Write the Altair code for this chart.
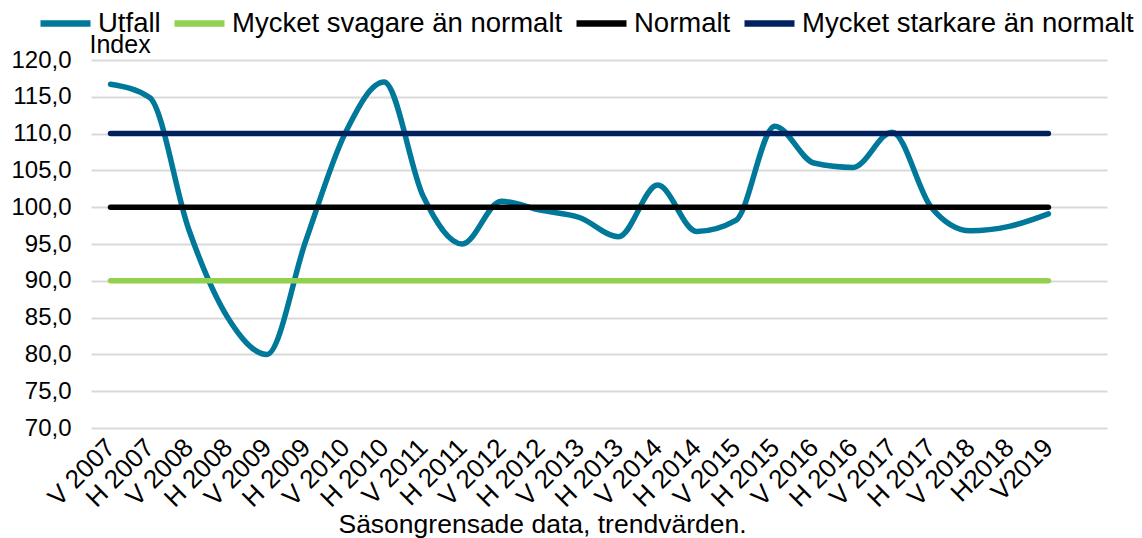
import altair as alt
import pandas as pd

periods = ["V 2007", "H 2007", "V 2008", "H 2008", "V 2009", "H 2009", "V 2010", "H 2010",
           "V 2011", "H 2011", "V 2012", "H 2012", "V 2013", "H 2013", "V 2014", "H 2014",
           "V 2015", "H 2015", "V 2016", "H 2016", "V 2017", "H 2017", "V 2018", "H2018", "V2019"]
utfall = [116.7, 114.9, 97.0, 85.0, 80.0, 95.5, 110.0, 117.0, 101.5, 95.0, 100.8, 99.6,
          98.6, 96.0, 103.0, 96.7, 98.2, 111.0, 106.0, 105.4, 110.2, 100.0, 96.8, 97.4, 99.1]
svagare = [90.0] * len(periods)
normalt = [100.0] * len(periods)
starkare = [110.0] * len(periods)

series_names = ["Utfall", "Mycket svagare än normalt", "Normalt", "Mycket starkare än normalt"]
series_colors = ["#00789A", "#92D050", "#000000", "#002060"]
series_values = [utfall, svagare, normalt, starkare]

rows = []
for order, (name, vals) in enumerate(zip(series_names, series_values)):
    for p, v in zip(periods, vals):
        rows.append({"period": p, "value": v, "series": name, "o": order})
df = pd.DataFrame(rows)

FONT = "Liberation Sans"
x_domain = periods + [" "]

chart = alt.Chart(df).mark_line(
    interpolate="monotone", strokeWidth=5.5, strokeCap="round", strokeJoin="round"
).encode(
    x=alt.X("period:O",
            scale=alt.Scale(type="point", domain=x_domain, padding=0.5),
            axis=alt.Axis(title="Säsongrensade data, trendvärden.", labelAngle=-45,
                          labelAlign="right", labelBaseline="middle", labelPadding=15,
                          labelFontSize=26, labelFont=FONT, labelColor="#000000",
                          domain=False, ticks=False, grid=False, labelOverlap=False,
                          titleFont=FONT, titleFontSize=26.5, titleFontWeight="normal",
                          titleColor="#000000", titleX=451, titleY=104,
                          titleAnchor="middle", titleAlign="center",
                          titleBaseline="alphabetic")),
    y=alt.Y("value:Q",
            scale=alt.Scale(domain=[70, 120], nice=False, zero=False),
            axis=alt.Axis(title="Index", values=list(range(70, 125, 5)),
                          labelExpr="replace(format(datum.value, '.1f'), '.', ',')",
                          labelFontSize=24, labelFont=FONT, labelColor="#000000",
                          labelPadding=20, domain=False, ticks=False,
                          gridColor="#d9d9d9", gridWidth=2,
                          titleAngle=0, titleX=-2, titleY=-8, titleAlign="left",
                          titleBaseline="alphabetic", titleFont=FONT, titleFontSize=25,
                          titleFontWeight="normal", titleColor="#000000")),
    color=alt.Color("series:N",
                    scale=alt.Scale(domain=series_names, range=series_colors),
                    legend=alt.Legend(title=None, orient="none", direction="horizontal",
                                      legendX=-54, legendY=-65, symbolType="stroke",
                                      symbolSize=2500, symbolStrokeWidth=6.5,
                                      labelFont=FONT, labelFontSize=27.5,
                                      labelColor="#000000", labelOffset=4,
                                      columnPadding=0, padding=0, labelLimit=0)),
    order=alt.Order("o:Q"),
    detail="series:N",
).properties(
    width=1016, height=368,
    autosize=alt.AutoSizeParams(type="none"),
    padding={"left": 83, "top": 52, "right": 27, "bottom": 110},
).configure_view(stroke=None)

chart.save("out.html", embed_options={"renderer": "svg", "actions": False})
